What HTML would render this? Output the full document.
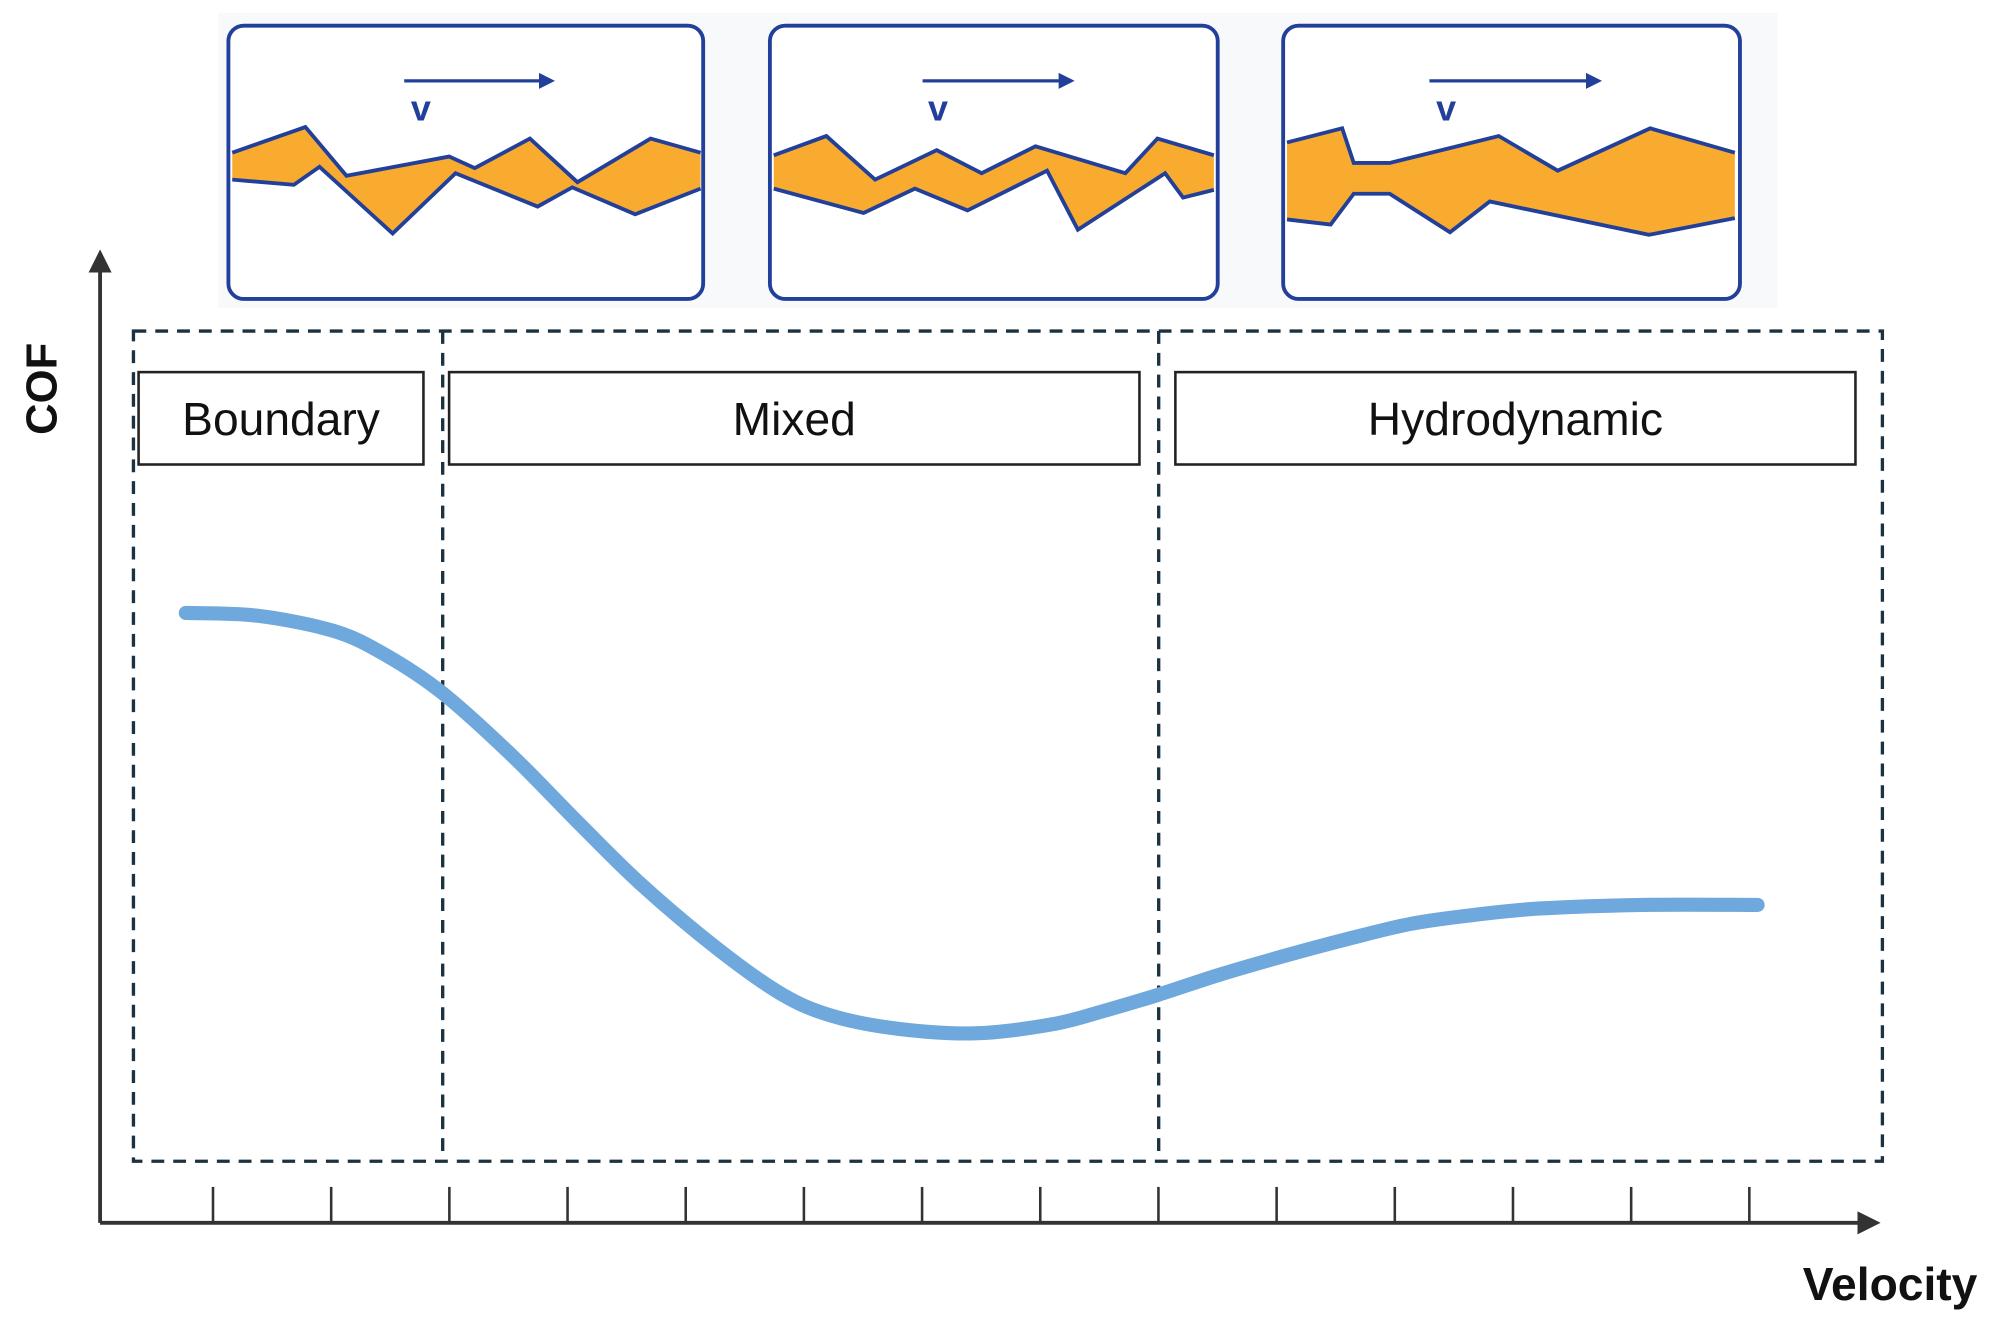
<!DOCTYPE html>
<html><head><meta charset="utf-8"><style>
html,body{margin:0;padding:0;background:#fff;}
svg{display:block;}
text{font-family:"Liberation Sans",sans-serif;}
</style></head><body>
<svg id="chart" width="2012" height="1330" viewBox="0 0 1568 1036.5" preserveAspectRatio="none" xmlns="http://www.w3.org/2000/svg">
<defs>
<marker id="ah" viewBox="0 0 10 10" refX="8" refY="5" markerWidth="6" markerHeight="6" orient="auto"><path d="M0,0 L10,5 L0,10 Z" fill="#333"/></marker>
<marker id="bh" viewBox="0 0 10 10" refX="8" refY="5" markerWidth="5" markerHeight="5" orient="auto"><path d="M0,0 L10,5 L0,10 Z" fill="#22409a"/></marker>
</defs>
<rect x="170" y="10" width="1215" height="230" fill="#f8f9fa"/>
<g id="panels"></g>
<g fill="none" stroke="#1c3240" stroke-width="2.6" stroke-dasharray="10,7">
<rect x="104" y="258" width="1363" height="647"/>
<line x1="345" y1="258" x2="345" y2="905"/>
<line x1="903" y1="258" x2="903" y2="905"/>
</g>
<g fill="#fff" stroke="#222" stroke-width="2">
<rect x="108" y="290" width="222" height="72"/>
<rect x="350" y="290" width="538" height="72"/>
<rect x="916" y="290" width="530" height="72"/>
</g>
<g font-size="36" fill="#111" text-anchor="middle">
<text x="219" y="339">Boundary</text>
<text x="619" y="339">Mixed</text>
<text x="1181" y="339">Hydrodynamic</text>
</g>
<line x1="78" y1="953" x2="78" y2="198" stroke="#333" stroke-width="3" marker-end="url(#ah)"/>
<line x1="78" y1="953" x2="1462" y2="953" stroke="#333" stroke-width="3" marker-end="url(#ah)"/>
<g id="ticks"></g>
<path id="curve" fill="none" stroke="#6fa8dc" stroke-width="11" stroke-linecap="round" stroke-linejoin="round"/>
<text transform="translate(44,303) rotate(-90)" text-anchor="middle" font-size="34" font-weight="bold" fill="#111">COF</text>
<text x="1473" y="1013" text-anchor="middle" font-size="36" font-weight="bold" fill="#111">Velocity</text>
</svg>
<script>
const tickValues = [1,2,3,4,5,6,7,8,9,10,11,12,13,14];
const curveV = [0.77,1.37,2.02,2.45,2.94,3.54,4.08,4.63,5.28,5.82,6.25,6.80,7.45,8.10,8.54,9.0,9.51,10.06,10.60,11.14,11.68,12.23,13.10,14.07];
const curveCOF = [0.679,0.676,0.659,0.633,0.59,0.519,0.447,0.376,0.304,0.254,0.230,0.216,0.211,0.221,0.236,0.254,0.276,0.297,0.316,0.333,0.343,0.350,0.354,0.354];
const ns='http://www.w3.org/2000/svg';
function xScale(v){return 73.9+v*92.1;}
function yScale(c){return 953-c*700;}
const tg=document.getElementById('ticks');
tickValues.forEach(t=>{
  const l=document.createElementNS(ns,'line');
  
  
  const x=xScale(t);
  l.setAttribute('x1',x);l.setAttribute('x2',x);l.setAttribute('y1',925);l.setAttribute('y2',953);
  l.setAttribute('stroke','#333');l.setAttribute('stroke-width','2');
  tg.appendChild(l);
});
const pts=curveV.map((v,i)=>[xScale(v),yScale(curveCOF[i])]);
let d='M'+pts[0][0]+','+pts[0][1];
for(let i=0;i<pts.length-1;i++){
  const p0=pts[Math.max(0,i-1)],p1=pts[i],p2=pts[i+1],p3=pts[Math.min(pts.length-1,i+2)];
  const c1=[p1[0]+(p2[0]-p0[0])/6,p1[1]+(p2[1]-p0[1])/6];
  const c2=[p2[0]-(p3[0]-p1[0])/6,p2[1]-(p3[1]-p1[1])/6];
  d+=' C'+c1+' '+c2+' '+p2;
}
document.getElementById('curve').setAttribute('d',d);
const panels=[
 {x:178,w:370,ax:315,ax2:430,vx:328,
  top:[[181,119],[238,99],[270,137],[350,122],[370,131],[413,108],[450,142],[507,108],[546,119]],
  bot:[[181,140],[229,144],[249,130],[306,182],[355,135],[419,161],[446,146],[495,167],[546,147]]},
 {x:600,w:349,ax:719,ax2:835,vx:731,
  top:[[603,121],[644,106],[682,140],[730,117],[765,135],[807,114],[877,135],[902,108],[946,121]],
  bot:[[603,147],[673,166],[713,147],[754,164],[816,133],[840,179],[908,135],[922,154],[946,148]]},
 {x:1000,w:356,ax:1114,ax2:1246,vx:1127,
  top:[[1003,111],[1046,100],[1055,127],[1083,127],[1168,106],[1214,133],[1286,100],[1352,119]],
  bot:[[1003,171],[1037,175],[1055,151],[1083,151],[1130,181],[1161,157],[1285,183],[1352,170]]}
];
const pg=document.getElementById('panels');
panels.forEach((p,i)=>{
  const g=document.createElementNS(ns,'g');
  
  
  const r=document.createElementNS(ns,'rect');
  r.setAttribute('x',p.x);r.setAttribute('y',20);r.setAttribute('width',p.w);r.setAttribute('height',213);r.setAttribute('rx',12);
  r.setAttribute('fill','#fff');r.setAttribute('stroke','#22409a');r.setAttribute('stroke-width','3');
  g.appendChild(r);
  const poly=document.createElementNS(ns,'polygon');
  poly.setAttribute('points',p.top.concat(p.bot.slice().reverse()).map(q=>q.join(',')).join(' '));
  poly.setAttribute('fill','#f9ab2f');
  g.appendChild(poly);
  [p.top,p.bot].forEach(s=>{
    const pl=document.createElementNS(ns,'polyline');
    pl.setAttribute('points',s.map(q=>q.join(',')).join(' '));
    pl.setAttribute('fill','none');pl.setAttribute('stroke','#22409a');pl.setAttribute('stroke-width','3');pl.setAttribute('stroke-linejoin','miter');
    g.appendChild(pl);
  });
  const a=document.createElementNS(ns,'line');
  a.setAttribute('x1',p.ax);a.setAttribute('x2',p.ax2);a.setAttribute('y1',63);a.setAttribute('y2',63);
  a.setAttribute('stroke','#22409a');a.setAttribute('stroke-width','2.5');a.setAttribute('marker-end','url(#bh)');
  g.appendChild(a);
  const t=document.createElementNS(ns,'text');
  t.setAttribute('x',p.vx);t.setAttribute('y',94);t.setAttribute('text-anchor','middle');
  t.setAttribute('font-size','28');t.setAttribute('font-weight','bold');t.setAttribute('fill','#22409a');
  t.textContent='v';
  g.appendChild(t);
  pg.appendChild(g);
});
</script>
</body></html>
